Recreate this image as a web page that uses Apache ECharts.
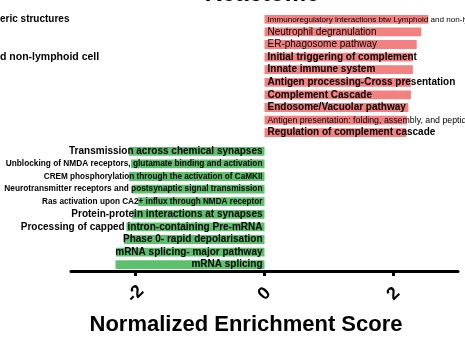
<!DOCTYPE html>
<html>
<head>
<meta charset="utf-8">
<script src="https://cdn.jsdelivr.net/npm/echarts@6/dist/echarts.min.js"></script>
<style>html,body{margin:0;padding:0;background:#fff;}#c{width:465px;height:339px;}</style>
</head>
<body>
<div id="c"></div>
<script>
const chartTitle = 'Reactome';
const xAxisTitle = 'Normalized Enrichment Score';
const posNames = [
  'Immunoregulatory interactions btw Lymphoid and non-lymphoid cell',
  'Neutrophil degranulation',
  'ER-phagosome pathway',
  'Initial triggering of complement',
  'Innate immune system',
  'Antigen processing-Cross presentation',
  'Complement Cascade',
  'Endosome/Vacuolar pathway',
  'Antigen presentation: folding, assembly, and peptide loading of class I MHC',
  'Regulation of complement cascade'
];
const posNES = [2.54, 2.43, 2.36, 2.3, 2.3, 2.27, 2.27, 2.23, 2.21, 2.2];
const negNames = [
  'Transmission across chemical synapses',
  'Unblocking of NMDA receptors, glutamate binding and activation',
  'CREM phosphorylation through the activation of CaMKII',
  'Neurotransmitter receptors and postsynaptic signal transmission',
  'Ras activation upon CA2+ influx through NMDA receptor',
  'Protein-protein interactions at synapses',
  'Processing of capped intron-containing Pre-mRNA',
  'Phase 0- rapid depolarisation',
  'mRNA splicing- major pathway',
  'mRNA splicing'
];
const negNES = [-2.1, -2.07, -2.1, -2.05, -1.96, -2.05, -2.14, -2.18, -2.3, -2.31];
const xTickValues = [-2, 0, 2];
const leftFragments = ['eric structures', 'd non-lymphoid cell'];

// label styles (kept apart from the data)
const posLabelSize = [8.1, 10, 10, 10, 10, 10, 10, 10, 8.8, 10];
const posLabelBold = [false, false, false, true, true, true, true, true, false, true];
const negLabelSize = [10, 8.3, 8.2, 8.3, 8.2, 10, 10, 10, 10, 10];

const FONT = 'Liberation Sans, Arial, sans-serif';
const chart = echarts.init(document.getElementById('c'), null, {renderer: 'canvas'});

const posData = posNES.map((v, i) => ({
  value: v,
  label: {fontSize: posLabelSize[i], fontWeight: posLabelBold[i] ? 'bold' : 'normal'}
}));
const negData = negNES.map((v, i) => ({
  value: v,
  label: {fontSize: negLabelSize[i], fontWeight: 'bold'}
}));

const xBase = {
  type: 'value', min: -3, max: 3,
  splitLine: {show: false}
};

chart.setOption({
  animation: false,
  backgroundColor: '#fff',
  grid: [
    {left: 71, right: 7, top: 13, height: 126},
    {left: 71, right: 7, top: 145, height: 126}
  ],
  xAxis: [
    Object.assign({}, xBase, {gridIndex: 0, show: false}),
    Object.assign({}, xBase, {
      gridIndex: 1,
      axisLine: {show: true, onZero: false, lineStyle: {color: '#000', width: 3}},
      axisTick: {show: true, customValues: xTickValues, length: 5, lineStyle: {color: '#000', width: 3}},
      axisLabel: {
        customValues: xTickValues, rotate: 45, align: 'center', verticalAlign: 'middle',
        margin: 23, fontSize: 18, fontWeight: 'bold', color: '#000', fontFamily: FONT
      }
    })
  ],
  yAxis: [
    {type: 'category', gridIndex: 0, data: posNames, inverse: true, show: false},
    {type: 'category', gridIndex: 1, data: negNames, inverse: true, show: false}
  ],
  series: [
    {
      type: 'bar', xAxisIndex: 0, yAxisIndex: 0, data: posData, barWidth: '70%',
      itemStyle: {color: '#f38181'},
      label: {show: true, position: 'insideLeft', distance: 3, formatter: '{b}', color: '#000', fontFamily: FONT}
    },
    {
      type: 'bar', xAxisIndex: 1, yAxisIndex: 1, data: negData, barWidth: '70%',
      itemStyle: {color: '#5dc06d'},
      label: {show: true, position: 'insideRight', distance: 2, formatter: '{b}', color: '#000', fontFamily: FONT}
    }
  ],
  graphic: [
    {type: 'text', silent: true, style: {text: chartTitle, x: 262, y: -6, align: 'center', verticalAlign: 'middle', font: 'bold 24px ' + FONT, fill: '#000'}},
    {type: 'text', style: {text: xAxisTitle, x: 246, y: 325, align: 'center', verticalAlign: 'middle', font: 'bold 22px ' + FONT, fill: '#000'}},
    {type: 'text', style: {text: leftFragments[0], x: 0, y: 19, align: 'left', verticalAlign: 'middle', font: 'bold 10px ' + FONT, fill: '#000'}},
    {type: 'text', style: {text: leftFragments[1], x: 0, y: 57, align: 'left', verticalAlign: 'middle', font: 'bold 10.5px ' + FONT, fill: '#000'}}
  ]
});
</script>
</body>
</html>
